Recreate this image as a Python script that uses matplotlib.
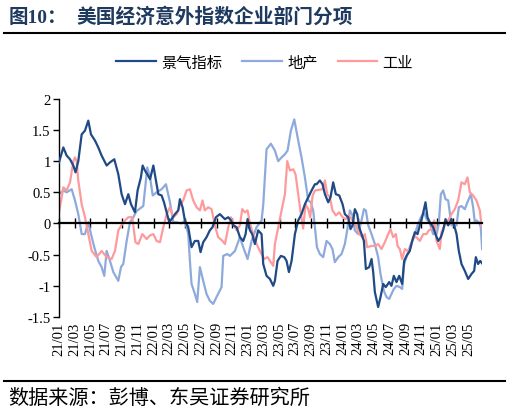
import matplotlib
matplotlib.use("Agg")
import matplotlib.pyplot as plt
from matplotlib.lines import Line2D
from matplotlib.ticker import FuncFormatter

plt.rcParams['font.family'] = ['Liberation Serif', 'Noto Sans CJK SC']
plt.rcParams['axes.unicode_minus'] = False

# months since 2021-01
jq_x = [0, 0.55, 0.97, 1.4, 1.82, 2.1, 2.45, 2.88, 3.3, 3.72, 4.06, 4.57, 4.99, 5.41, 6.05, 6.47,
        7.02, 7.53, 7.95, 8.38, 8.8, 9.14, 9.64, 9.98, 10.4, 10.62, 10.91, 11.21, 11.56, 11.98,
        12.31, 12.61, 13.03, 13.33, 13.67, 14.0, 14.3, 14.72, 15.14, 15.35, 15.69, 15.98, 16.41,
        16.83, 17.25, 17.68, 17.97, 18.31, 18.73, 19.15, 19.49, 19.92, 20.42, 21.06, 21.49, 21.83,
        22.12, 22.55, 22.97, 23.39, 23.69, 23.94, 24.24, 24.53, 24.87, 25.29, 25.72, 25.93, 26.35,
        26.78, 27.2, 27.41, 27.75, 28.17, 28.6, 28.89, 29.19, 29.53, 29.95, 30.37, 30.79, 31.22,
        31.64, 32.07, 32.49, 32.7, 33.12, 33.46, 33.76, 34.18, 34.47, 34.81, 35.15, 35.58, 36.0,
        36.29, 36.72, 37.01, 37.27, 37.56, 37.86, 38.11, 38.41, 38.71, 38.96, 39.38, 39.68, 39.89,
        40.1, 40.52, 40.82, 41.16, 41.49, 41.92, 42.21, 42.51, 42.85, 43.19, 43.57, 43.82, 44.12,
        44.54, 44.84, 45.18, 45.52, 45.81, 46.11, 46.53, 46.78, 47.08, 47.5, 47.8, 48.14, 48.48,
        48.77, 49.07, 49.41, 49.83, 50.17, 50.47, 50.76, 51.1, 51.52, 51.95, 52.37, 52.71, 52.92,
        53.21, 53.47, 53.72]
jq_y = [0.98, 1.22, 1.09, 1.03, 0.93, 0.82, 1.0, 1.43, 1.49, 1.65, 1.43, 1.33, 1.22, 1.09, 0.93, 0.98,
        1.03, 0.79, 0.47, 0.31, 0.47, 0.31, 0.18, 0.53, 0.74, 0.93, 0.85, 0.79, 0.71, 0.93,
        0.69, 0.47, 0.45, 0.34, 0.18, 0.02, 0.07, 0.15, 0.21, 0.39, 0.26, 0.05, -0.06,
        -0.38, -0.28, -0.28, -0.46, -0.3, -0.22, -0.11, -0.06, 0.1, 0.15, 0.07, 0.1, 0.05,
        -0.03, -0.06, -0.22, -0.28, -0.17, 0.07, -0.11, -0.17, -0.33, -0.11, -0.17, -0.65, -0.84,
        -0.89, -1.0, -0.92, -0.6, -0.52, -0.54, -0.6, -0.78, -0.6, -0.17, 0.05, 0.15, 0.31,
        0.42, 0.53, 0.63, 0.63, 0.69, 0.63, 0.47, 0.34, 0.42, 0.66, 0.47, 0.45, 0.31,
        0.15, 0.1, -0.09, -0.03, 0.23, 0.15, -0.06, -0.17, -0.28, -0.73, -0.7, -0.57, -0.78,
        -1.1, -1.34, -1.18, -0.97, -1.02, -0.94, -1.0, -0.84, -0.94, -0.84, -0.97, -0.6, -0.52,
        -0.44, -0.28, -0.14, -0.17, -0.03, 0.1, 0.34, 0.1, 0.02, -0.06, -0.17, -0.28, -0.22,
        -0.11, 0.07, -0.03, 0.07, -0.03, -0.17, -0.44, -0.65, -0.76, -0.89, -0.81, -0.76, -0.54,
        -0.65, -0.6, -0.64]

dc_x = [0, 0.55, 0.97, 1.61, 2.03, 2.45, 2.88, 3.3, 3.72, 4.06, 4.48, 4.99, 5.41, 5.75, 6.05, 6.47,
        6.9, 7.53, 7.87, 8.16, 8.59, 9.01, 9.43, 9.86, 10.49, 10.7, 11.21, 11.56, 11.9, 12.39,
        13.03, 13.58, 14.09, 14.51, 14.94, 15.56, 15.98, 16.41, 16.62, 16.83, 17.25, 17.55, 17.89,
        18.31, 18.73, 19.15, 19.58, 20.0, 20.64, 20.85, 21.36, 21.7, 22.34, 22.97, 23.39, 23.94,
        24.45, 25.08, 25.72, 25.93, 26.35, 26.9, 27.41, 27.83, 28.26, 28.68, 29.02, 29.44, 29.87,
        30.37, 30.79, 31.22, 31.64, 31.98, 32.28, 32.49, 32.75, 33.12, 33.54, 33.97, 34.39, 34.72,
        35.02, 35.45, 35.87, 36.29, 36.59, 36.93, 37.27, 37.56, 37.98, 38.41, 38.71, 38.96, 39.26,
        39.68, 40.1, 40.52, 40.82, 41.24, 41.58, 41.92, 42.21, 42.51, 42.85, 43.27, 43.57, 43.82,
        44.24, 44.66, 45.09, 45.52, 45.94, 46.36, 46.66, 47.08, 47.5, 47.93, 48.22, 48.48, 48.77,
        49.07, 49.41, 49.83, 50.17, 50.47, 50.76, 51.1, 51.52, 51.95, 52.29, 52.58, 52.79, 53.0,
        53.3, 53.55, 53.72]
dc_y = [0.47, 0.53, 0.5, 0.55, 0.37, 0.15, -0.17, -0.17, 0.02, -0.17, -0.38, -0.6, -0.7, -0.84, -0.44, -0.6,
        -0.78, -0.92, -0.7, -0.65, -0.28, 0.02, 0.1, 0.2, 0.26, 0.28, 0.9, 0.74, 0.45, 0.5,
        0.55, 0.63, 0.34, 0.02, 0.02, 0.0, 0.05, -0.17, -0.6, -0.97, -1.13, -1.26, -0.7,
        -0.92, -1.13, -1.24, -1.29, -1.18, -1.02, -0.52, -0.49, -0.52, -0.44, -0.22, -0.38, -0.57,
        -0.28, -0.06, 0.05, 0.3, 1.19, 1.28, 1.17, 1.0, 1.06, 1.11, 1.17, 1.49, 1.67,
        1.33, 1.06, 0.74, 0.37, 0.34, 0.2, -0.06, -0.38, -0.49, -0.54, -0.28, -0.33, -0.41,
        -0.62, -0.54, -0.49, -0.33, -0.11, 0.21, 0.13, -0.11, -0.17, 0.05, 0.23, 0.21, -0.03,
        -0.17, -0.33, -0.54, -0.81, -1.08, -1.18, -1.21, -1.13, -1.05, -1.0, -1.02, -1.05, -0.65,
        -0.49, -0.33, -0.22, -0.03, 0.1, 0.18, 0.07, 0.0, -0.17, -0.17, 0.0, 0.47, 0.53,
        0.39, 0.37, -0.03, -0.03, -0.03, 0.26, 0.28, 0.23, 0.37, 0.47, 0.26, 0.02, 0.05,
        0.02, -0.06, -0.41]

gy_x = [0, 0.34, 0.55, 0.97, 1.4, 1.82, 2.03, 2.24, 2.45, 2.88, 3.3, 3.72, 4.15, 4.78, 5.41, 6.05,
        6.68, 7.11, 7.53, 8.16, 8.8, 9.31, 9.7, 10.07, 10.58, 11.13, 11.56, 11.98, 12.39, 12.82,
        13.24, 13.67, 14.09, 14.51, 14.94, 15.35, 15.77, 16.2, 16.62, 17.04, 17.47, 17.89, 18.22,
        18.52, 18.94, 19.37, 19.79, 20.21, 20.76, 21.07, 21.49, 21.83, 22.12, 22.55, 22.97, 23.26,
        23.6, 23.94, 24.24, 24.66, 25.08, 25.5, 26.05, 26.48, 26.9, 27.2, 27.41, 27.83, 28.26,
        28.68, 28.98, 29.32, 29.74, 30.03, 30.37, 30.71, 31.0, 31.3, 31.64, 31.9, 32.2, 32.5,
        33.46, 33.76, 34.05, 34.39, 34.72, 35.15, 35.58, 36.0, 36.42, 36.84, 37.27, 37.69, 38.11,
        38.54, 38.83, 39.13, 39.68, 40.1, 40.52, 40.94, 41.37, 41.79, 42.09, 42.43, 42.77, 42.98,
        43.27, 43.57, 43.91, 44.24, 44.66, 44.96, 45.39, 45.81, 46.24, 46.66, 46.95, 47.29, 47.63,
        47.93, 48.35, 48.56, 48.98, 49.41, 49.83, 50.25, 50.68, 51.1, 51.52, 51.86, 52.16, 52.58,
        53.0, 53.43, 53.64]
gy_y = [0.18, 0.42, 0.58, 0.53, 0.66, 1.0, 1.06, 1.0, 0.69, 0.31, 0.1, -0.17, -0.44, -0.54, -0.44, -0.54,
        -0.57, -0.44, -0.11, 0.02, 0.1, 0.1, -0.3, -0.33, -0.17, -0.25, -0.19, -0.17, -0.28, -0.3,
        -0.06, 0.15, 0.26, 0.1, 0.15, 0.29, 0.37, 0.53, 0.55, 0.37, 0.26, 0.21, 0.37,
        0.21, 0.26, 0.23, -0.03, -0.22, -0.28, -0.33, -0.06, 0.1, 0.0, -0.11, -0.03, 0.23,
        0.18, 0.21, 0.0, -0.17, -0.33, -0.44, -0.57, -0.54, -0.62, -0.68, -0.33, -0.06, 0.21,
        0.47, 1.0, 0.85, 0.87, 0.79, 0.47, 0.15, -0.08, 0.31, 0.23, 0.1, 0.45, 0.53,
        0.55, 0.69, 0.47, 0.42, 0.21, 0.13, 0.18, 0.1, 0.07, 0.13, 0.05, -0.03, -0.17,
        -0.22, -0.17, -0.38, -0.36, -0.36, -0.33, -0.41, -0.3, -0.17, -0.09, -0.22, -0.17, -0.36,
        -0.41, -0.57, -0.41, -0.44, -0.38, -0.22, -0.22, -0.28, -0.17, -0.17, -0.11, -0.09, 0.05,
        -0.28, -0.41, -0.14, -0.03, 0.05, 0.15, 0.23, 0.37, 0.66, 0.63, 0.74, 0.5, 0.45,
        0.37, 0.21, -0.03]

tick_pos = list(range(0, 53, 2))
tick_labels = ['21/01', '21/03', '21/05', '21/07', '21/09', '21/11',
               '22/01', '22/03', '22/05', '22/07', '22/09', '22/11',
               '23/01', '23/03', '23/05', '23/07', '23/09', '23/11',
               '24/01', '24/03', '24/05', '24/07', '24/09', '24/11',
               '25/01', '25/03', '25/05']

fig = plt.figure(figsize=(5.09, 4.14), dpi=100)
ax = fig.add_axes([0.1159, 0.2319, 0.831, 0.527])

ax.plot(jq_x, jq_y, color='#1f4a85', lw=1.6, label='景气指标', zorder=3)
ax.plot(dc_x, dc_y, color='#8eaadc', lw=1.6, label='地产', zorder=2)
ax.plot(gy_x, gy_y, color='#ff9a9c', lw=1.6, label='工业', zorder=2)

ax.set_xlim(0, 53.7)
ax.set_ylim(-1.5, 2)
ax.set_yticks([-1.5, -1, -0.5, 0, 0.5, 1, 1.5, 2])
ax.yaxis.set_major_formatter(FuncFormatter(lambda v, p: '%g' % v))
ax.tick_params(axis='y', direction='out', length=4, width=1, labelsize=10.5, pad=2)

for s in ['top', 'right']:
    ax.spines[s].set_visible(False)
ax.spines['left'].set_linewidth(1)
ax.spines['bottom'].set_position(('data', 0))
ax.spines['bottom'].set_linewidth(1.6)
ax.spines['bottom'].set_zorder(4)
ax.set_xticks(tick_pos)
ax.tick_params(axis='x', direction='inout', length=7, width=1, labelbottom=False)

sec = ax.secondary_xaxis(0)
sec.set_xticks(tick_pos, tick_labels)
sec.tick_params(length=0, labelrotation=90, labelsize=10.5, pad=3)
sec.spines['bottom'].set_visible(False)

fig.legend(loc='center', bbox_to_anchor=(0.52, 1 - 63 / 414), ncol=3, frameon=False,
           prop={'family': ['Noto Sans CJK SC'], 'size': 11},
           handlelength=2.6, handletextpad=0.35, columnspacing=1.3)

fig.text(0.016, 1 - 18 / 414, '图10：', fontsize=14, fontweight='bold',
         color='#1f3a5f', va='center', ha='left')
fig.text(76 / 509, 1 - 18 / 414, '美国经济意外指数企业部门分项', fontsize=14.2, fontweight='bold',
         color='#1f3a5f', va='center', ha='left')
fig.add_artist(Line2D([0.008, 0.992], [1 - 34 / 414] * 2, transform=fig.transFigure,
                      color='black', lw=1.5))
fig.add_artist(Line2D([0.008, 0.992], [1 - 381.5 / 414] * 2, transform=fig.transFigure,
                      color='black', lw=1.5))
fig.text(0.016, 1 - 399 / 414, '数据来源：彭博、东吴证券研究所', fontsize=14.5,
         color='black', va='center', ha='left')

fig.savefig('out.png', dpi=100)
